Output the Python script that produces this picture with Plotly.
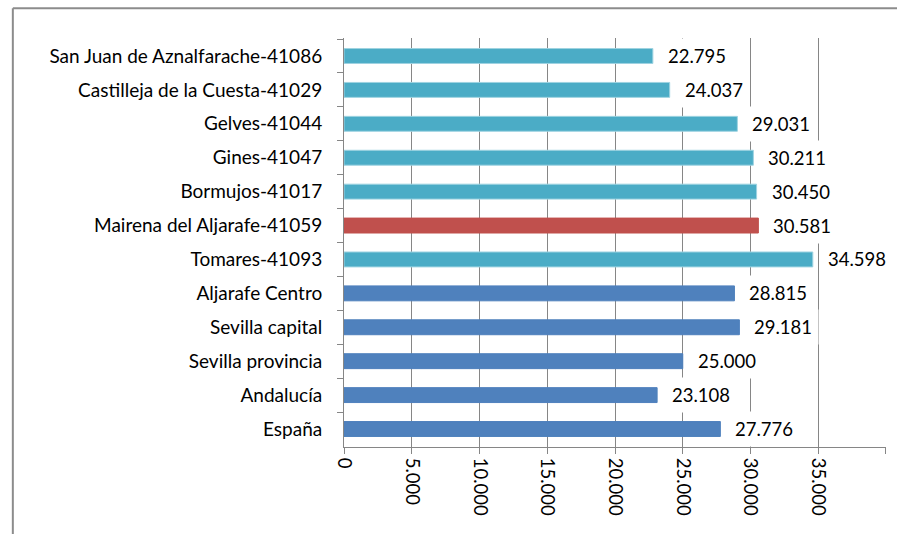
import plotly.graph_objects as go

# Renta media declarada por municipio (euros)
categories = [
    "San Juan de Aznalfarache-41086",
    "Castilleja de la Cuesta-41029",
    "Gelves-41044",
    "Gines-41047",
    "Bormujos-41017",
    "Mairena del Aljarafe-41059",
    "Tomares-41093",
    "Aljarafe Centro",
    "Sevilla capital",
    "Sevilla provincia",
    "Andalucía",
    "España",
]
values = [22795, 24037, 29031, 30211, 30450, 30581, 34598,
          28815, 29181, 25000, 23108, 27776]
groups = ["muni", "muni", "muni", "muni", "muni", "focus", "muni",
          "ref", "ref", "ref", "ref", "ref"]
x_ticks = [0, 5000, 10000, 15000, 20000, 25000, 30000, 35000, 40000]
x_ticktext = ["0", "5.000", "10.000", "15.000", "20.000",
              "25.000", "30.000", "35.000", "40.000"]

COLORS = {"muni": "#4BACC6", "focus": "#C0504D", "ref": "#4F81BD"}
OUTLINE = {"muni": "#9ED3E1", "focus": "#C0504D", "ref": "#4F81BD"}
GRID = "#868686"
FONT = "Lato, Carlito, Calibri, sans-serif"


def fmt(v):
    return f"{v:,}".replace(",", ".")


fig = go.Figure(go.Bar(
    x=values, y=categories, orientation="h",
    marker=dict(color=[COLORS[g] for g in groups],
                line=dict(color=[OUTLINE[g] for g in groups], width=1)),
    hoverinfo="skip",
))

# data labels with white boxes (they hide the gridlines behind them)
for c, v in zip(categories, values):
    fig.add_annotation(
        x=v, y=c, text=fmt(v), showarrow=False,
        xanchor="left", xshift=8,
        font=dict(size=18.5, color="#000000", family=FONT),
        bgcolor="white", borderpad=6,
    )

# outer chart frame: only its top and left edges are inside the window
frame = dict(color="#8C8C8C", width=2)
fig.add_shape(type="line", xref="paper", yref="paper",
              x0=-0.611, x1=1.03, y0=1.073, y1=1.073, line=frame)
fig.add_shape(type="line", xref="paper", yref="paper",
              x0=-0.611, x1=-0.611, y0=-0.3, y1=1.073, line=frame)

fig.update_layout(
    width=897, height=534,
    margin=dict(l=344, r=11, t=38, b=87),
    paper_bgcolor="white", plot_bgcolor="white",
    bargap=0.56, showlegend=False,
    font=dict(family=FONT, size=19, color="#000000"),
)
fig.update_xaxes(
    range=[0, 40000.5], tickvals=x_ticks, ticktext=x_ticktext,
    tickangle=90, tickfont=dict(size=18.5),
    showgrid=True, gridcolor=GRID, gridwidth=1,
    showline=True, linecolor=GRID, linewidth=1,
    ticks="outside", ticklen=6, tickcolor=GRID,
    zeroline=False,
)
fig.update_yaxes(
    autorange="reversed", tickson="boundaries",
    tickfont=dict(size=19), ticklabelstandoff=17,
    showline=True, linecolor=GRID, linewidth=1,
    ticks="outside", ticklen=6, tickcolor=GRID,
    showgrid=False, zeroline=False,
)

# drop the default page margin and scrollbars so the figure fills the window
page_fix = (
    "document.body.style.margin='0';"
    "document.body.style.overflow='hidden';"
    "document.documentElement.style.overflow='hidden';"
    "document.documentElement.style.scrollbarWidth='none';"
)
fig.write_html("out.html", config={"displayModeBar": False},
               post_script=page_fix)
